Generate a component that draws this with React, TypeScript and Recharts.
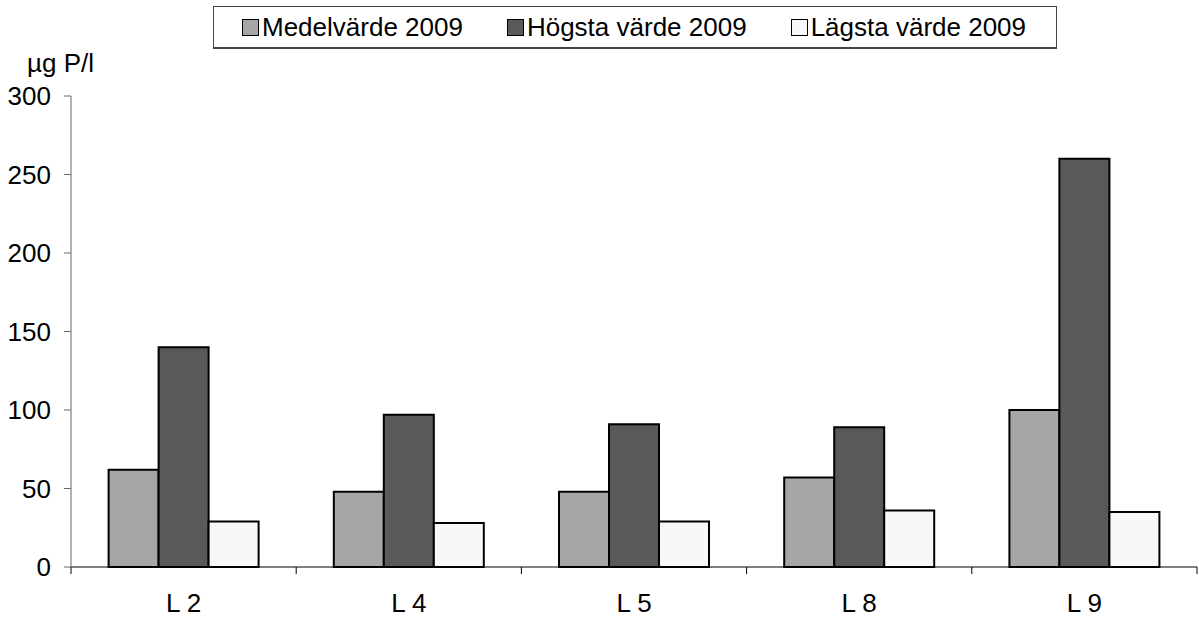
import React from 'react';
import { BarChart, Bar, XAxis, YAxis } from 'recharts';

const categories = ['L 2', 'L 4', 'L 5', 'L 8', 'L 9'];
const medelValues = [62, 48, 48, 57, 100];
const hogstaValues = [140, 97, 91, 89, 260];
const lagstaValues = [29, 28, 29, 36, 35];
const yTicks = [0, 50, 100, 150, 200, 250, 300];

const series = [
  { key: 'medel', name: 'Medelvärde 2009', color: '#a6a6a6' },
  { key: 'hogsta', name: 'Högsta värde 2009', color: '#595959' },
  { key: 'lagsta', name: 'Lägsta värde 2009', color: '#f8f8f8' },
];

const data = categories.map((name, i) => ({
  name,
  medel: medelValues[i],
  hogsta: hogstaValues[i],
  lagsta: lagstaValues[i],
}));

const FONT = '"Liberation Sans", Arial, sans-serif';
const FONT_SIZE = 26;
const WIDTH = 1199;
const HEIGHT = 619;
const PLOT_LEFT = 71;
const PLOT_RIGHT = 2;
const BAND = (WIDTH - PLOT_LEFT - PLOT_RIGHT) / categories.length;

const XTick = (props: any) => {
  const { x, y, payload, index } = props;
  const half = payload && payload.offset ? payload.offset : BAND / 2;
  return (
    <g>
      <line x1={x - half} x2={x - half} y1={y - 9} y2={y - 2} stroke="#000" strokeWidth={1} />
      {index === categories.length - 1 && (
        <line x1={x + half} x2={x + half} y1={y - 9} y2={y - 2} stroke="#000" strokeWidth={1} />
      )}
      <text x={x} y={y} dy={36} textAnchor="middle" fontSize={FONT_SIZE} fill="#000" fontFamily={FONT}>
        {payload.value}
      </text>
    </g>
  );
};

const UnitLabel = (props: any) => {
  const vb = props.viewBox || { x: 0, y: 96 };
  return (
    <text x={vb.x + 27} y={vb.y - 24} fontSize={FONT_SIZE} fill="#000" fontFamily={FONT}>
      µg P/l
    </text>
  );
};

const App: React.FC = () => {
  return (
    <div style={{ position: 'absolute', left: 0, top: 0, width: WIDTH, height: HEIGHT, background: '#fff', fontFamily: FONT }}>
      <div
        style={{
          position: 'absolute',
          left: 213,
          top: 6,
          width: 844,
          height: 43,
          border: '1px solid #444',
          borderBottomWidth: 2,
          boxSizing: 'border-box',
          display: 'flex',
          alignItems: 'center',
          paddingLeft: 28,
          gap: 44,
          fontSize: FONT_SIZE,
          color: '#000',
        }}
      >
        {series.map((s) => (
          <div key={s.key} style={{ display: 'flex', alignItems: 'center' }}>
            <span
              style={{
                display: 'inline-block',
                width: 15,
                height: 15,
                background: s.color,
                border: '1.5px solid #000',
                marginRight: 3,
              }}
            />
            <span>{s.name}</span>
          </div>
        ))}
      </div>
      <BarChart
        width={WIDTH}
        height={HEIGHT}
        data={data}
        margin={{ top: 96, right: PLOT_RIGHT, bottom: 12, left: 0 }}
        barCategoryGap="16.7%"
        barGap={0}
      >
        <XAxis
          dataKey="name"
          height={40}
          axisLine={{ stroke: '#000', strokeWidth: 1 }}
          tickLine={false}
          tickSize={7}
          tick={<XTick />}
          interval={0}
        />
        <YAxis
          width={PLOT_LEFT}
          domain={[0, 300]}
          ticks={yTicks}
          interval={0}
          axisLine={{ stroke: '#666', strokeWidth: 1 }}
          tickLine={{ stroke: '#666', strokeWidth: 1 }}
          tickSize={7}
          tickMargin={13}
          tick={{ fontSize: FONT_SIZE, fill: '#000', fontFamily: FONT }}
          label={<UnitLabel />}
        />
        {series.map((s) => (
          <Bar
            key={s.key}
            dataKey={s.key}
            name={s.name}
            fill={s.color}
            stroke="#000"
            strokeWidth={2}
            isAnimationActive={false}
          />
        ))}
      </BarChart>
    </div>
  );
};

export default App;
